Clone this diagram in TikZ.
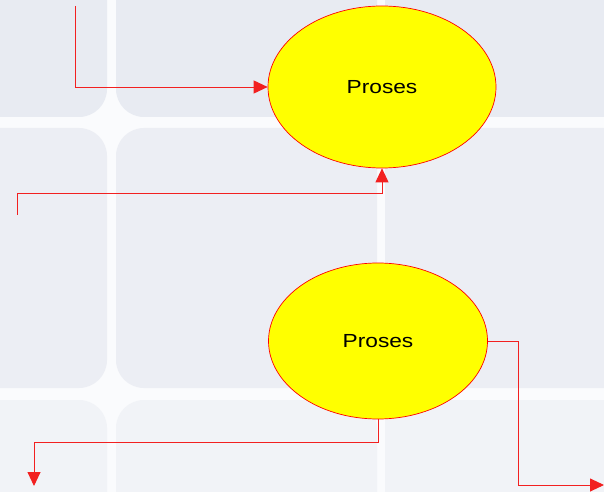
\documentclass[tikz,border=0pt]{standalone}
\usepackage{fontspec}
\setmainfont{Liberation Sans}
\usetikzlibrary{arrows.meta,shapes.geometric}
\definecolor{gap}{HTML}{FAFBFD}
\definecolor{rowa}{HTML}{E8EBF2}
\definecolor{rowb}{HTML}{ECEEF4}
\definecolor{rowc}{HTML}{F1F3F7}
\definecolor{lineRed}{HTML}{F22020}
\definecolor{yel}{RGB}{255,255,0}
\tikzset{
  proc/.style={ellipse, draw=red, line width=0.7bp, fill=yel, inner sep=0pt,
    font=\fontsize{19}{22}\selectfont},
  conn/.style={draw=lineRed, line width=0.9bp, -{Triangle[length=14bp,width=13bp]}},
}
\begin{document}
\begin{tikzpicture}[x=1bp,y=-1bp]
\useasboundingbox (0,0) rectangle (604,492);
\fill[gap] (0,0) rectangle (604,492);
% panels
\foreach \xa/\xb/\r in {-40/107/28,116/377/28,385/644/16}{
  \fill[rowa,rounded corners=\r bp] (\xa,-40) rectangle (\xb,117);
  \fill[rowb,rounded corners=\r bp] (\xa,128) rectangle (\xb,388);
  \fill[rowc,rounded corners=\r bp] (\xa,400) rectangle (\xb,532);
}
% nodes
\node[proc, minimum width=228bp, minimum height=162bp] (p1) at (382,87) {\scalebox{1.2}[1]{Proses}};
\node[proc, minimum width=219bp, minimum height=156bp] (p2) at (378,341) {\scalebox{1.2}[1]{Proses}};
% free ends
\coordinate (s1) at (75.7,6);
\coordinate (s2) at (17,215);
\coordinate (e3) at (34,486);
\coordinate (e4) at (604,485);
% connectors
\draw[conn] (s1) |- (p1.west);
\draw[conn] (s2) -- ++(0,-22) -| (p1.south);
\draw[conn] (p2.south) -- ++(0,23) -| (e3);
\draw[conn] (p2.east) -- ++(31,0) |- (e4);
\end{tikzpicture}
\end{document}
